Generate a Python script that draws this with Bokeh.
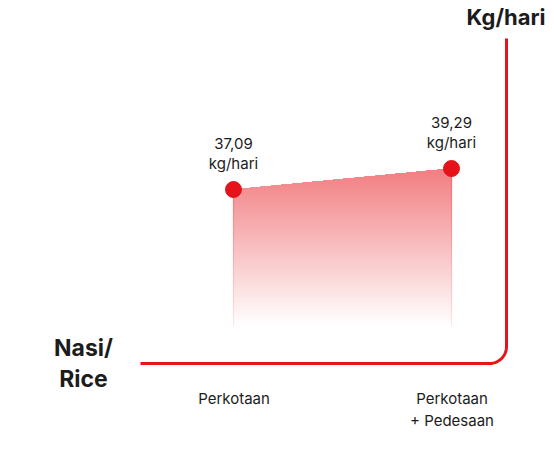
import numpy as np
from bokeh.plotting import figure
from bokeh.models import Range1d
from bokeh.core.properties import value
from bokeh.embed import file_html
from bokeh.resources import INLINE

# ---- data ----
categories = ["Perkotaan", "Perkotaan\n+ Pedesaan"]
values = [37.09, 39.29]
value_labels = ["37,09\nkg/hari", "39,29\nkg/hari"]
unit_label = "Kg/hari"
item_label = "Nasi/\nRice"

# ---- layout / style ----
W, H = 546, 451
RED = "#E5141A"
RED_RGB = (229, 20, 26)
TXT = "#1c1c1c"
FONT = value("Inter")

PX_X = 218.0          # pixels per category step
PX_Y = 21.0 / 2.2     # pixels per kg

x0, y0 = 233.0, 189.0  # pixel position of first point on the canvas
x_start = -x0 / PX_X
x_end = x_start + W / PX_X
y_end = values[0] + y0 / PX_Y
y_start = y_end - H / PX_Y

def dy(px):
    return px / PX_Y

def dx(px):
    return px / PX_X

def tint(o):
    o = max(0.0, min(1.0, o))
    r, g, b = (round(255 - o * (255 - c)) for c in RED_RGB)
    return "#%02x%02x%02x" % (r, g, b)

p = figure(width=W, height=H, output_backend="svg", toolbar_location=None,
           x_range=Range1d(x_start, x_end), y_range=Range1d(y_start, y_end),
           min_border=0)
p.axis.visible = False
p.grid.visible = False
p.outline_line_color = None
p.background_fill_color = "white"
p.border_fill_color = "white"

xs_idx = np.arange(len(values), dtype=float)

# ---- gradient area: stacked opaque bands, each reaching the top line ----
g_top = max(values)
bot_px = 136                      # gradient fades out this many px below first point
g_bot = values[0] - dy(bot_px)
span = (g_top - g_bot) * PX_Y
xs = np.linspace(xs_idx[0], xs_idx[-1], 240)
top = np.interp(xs, xs_idx, values)
O_max = 0.55
step = 2.0
k = 0.0
while True:
    lo = g_bot + dy(k)
    if lo >= g_top:
        break
    o = O_max * (k + step / 2) / span
    y1 = np.minimum(lo, top)
    p.varea(x=xs, y1=y1, y2=top, fill_color=tint(o))
    k += step

# edge lines of the area
for xi, v in zip(xs_idx, values):
    lv = np.arange(g_bot, v, dy(step))
    lv = np.append(lv, v)
    cols = [tint(O_max * (a - g_bot) / (g_top - g_bot) + 0.12) for a in lv[:-1]]
    p.segment(x0=[xi] * (len(lv) - 1), y0=lv[:-1], x1=[xi] * (len(lv) - 1),
              y1=lv[1:], line_color=cols, line_width=1.2)

# ---- L-shaped frame ----
base_v = values[0] - dy(174)
right_x = dx(506 - 233)
left_x = -dx(233 - 140)
top_v = values[0] + dy(151)
rx, ry = dx(17), dy(17)
t = np.linspace(-np.pi / 2, 0, 30)
fx = np.concatenate([[left_x], right_x - rx + rx * np.cos(t), [right_x]])
fy = np.concatenate([[base_v], base_v + ry + ry * np.sin(t), [top_v]])
p.line(fx, fy, line_color=RED, line_width=3)

# ---- points ----
p.scatter(x=xs_idx, y=values, size=16, fill_color=RED, line_color=RED)

# ---- value labels ----
p.text(x=xs_idx, y=[v + dy(36) for v in values], text=value_labels,
       text_font=FONT, text_font_size="15px", text_color=TXT,
       text_align="center", text_baseline="middle", text_line_height=1.07)

# ---- category labels ----
p.text(x=xs_idx + dx(0.5), y=[base_v - dy(25)] * len(categories), text=categories,
       text_font=FONT, text_font_size="15px", text_color=TXT,
       text_align="center", text_baseline="top", text_line_height=1.2)

# ---- axis titles ----
p.text(x=[x_end - dx(1)], y=[y_end - dy(16)], text=[unit_label],
       text_font=FONT, text_font_size="22px", text_font_style="bold",
       text_color=TXT, text_align="right", text_baseline="middle")
p.text(x=[-dx(233 - 83)], y=[base_v], text=[item_label],
       text_font=FONT, text_font_size="23px", text_font_style="bold",
       text_color=TXT, text_align="center", text_baseline="middle",
       text_line_height=1.1)

open("out.html", "w").write(file_html(p, INLINE))
